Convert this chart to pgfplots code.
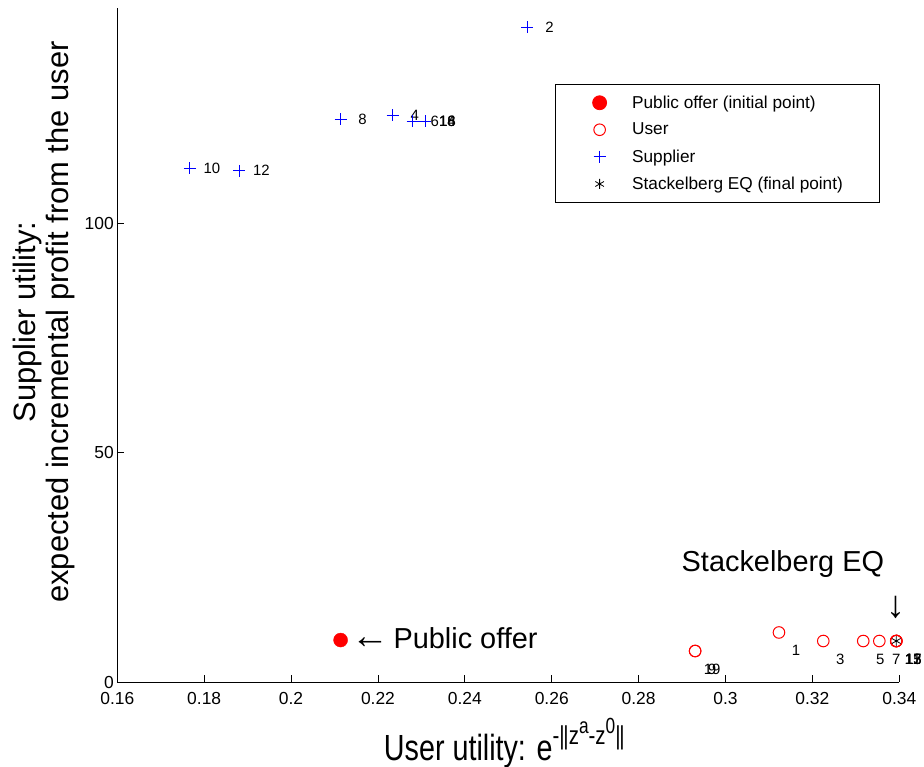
\documentclass[border=0pt]{standalone}
\usepackage{fontspec}
\setmainfont{Liberation Sans}
\newfontfamily\narrowfont[FakeStretch=0.79]{Liberation Sans}
\usepackage{pgfplots}
\pgfplotsset{compat=1.18}
\definecolor{mblue}{rgb}{0,0,1}
\definecolor{mred}{rgb}{1,0,0}
\begin{document}
\begin{tikzpicture}
\begin{axis}[
  name=ax,
  scale only axis,
  width=782bp, height=674bp,
  xmin=0.16, xmax=0.34, ymin=0, ymax=147,
  axis x line=bottom, axis y line=left,
  axis line style={-, line width=1bp, black},
  tick align=inside,
  major tick length=7bp,
  tick style={black, line width=0.8bp},
  xtick={0.16,0.18,0.2,0.22,0.24,0.26,0.28,0.3,0.32,0.34},
  xticklabels={0.16,0.18,0.2,0.22,0.24,0.26,0.28,0.3,0.32,0.34},
  ytick={0,50,100},
  yticklabels={0,50,100},
  ticklabel style={font=\fontsize{17.5}{20}\selectfont},
  xticklabel style={yshift=-7bp},
  /pgf/number format/assume math mode=true,
  clip=false,
  xlabel={{\narrowfont\fontsize{36.5}{40}\selectfont User utility: e\raisebox{0.42em}{\fontsize{26}{28}\selectfont -|\kern-0.05em|z\raisebox{0.45em}{\fontsize{22}{24}\selectfont a}-z\raisebox{0.45em}{\fontsize{22}{24}\selectfont 0}|\kern-0.05em|}}},
  xlabel style={at={(axis description cs:0.5,0)}, anchor=base, yshift=-78bp, xshift=-4bp},
  ylabel={Supplier utility:\\expected incremental profit from the user},
  ylabel style={at={(axis description cs:-0.094,0.534)}, anchor=center, align=center, font=\fontsize{31}{33}\selectfont},
  legend style={at={(0.9757,0.887)}, anchor=north east, draw=black, line width=0.8bp,
    font=\fontsize{17.3}{20}\selectfont, inner xsep=37bp, inner ysep=11.2bp, row sep=13.3bp,
    nodes={inner sep=0pt},
    /tikz/every odd column/.append style={column sep=25.5bp}},
  legend cell align=left,
  legend image code/.code={\draw[mark repeat=2,mark phase=2,#1] plot coordinates {(0bp,0bp)(6bp,0bp)(12bp,0bp)};},
]
\addplot[only marks, mark=*, mark size=7bp, mred, fill=mred] coordinates {(0.2114,9.15)};
\addlegendentry{Public offer (initial point)\hspace{5bp}}
\addplot[only marks, mark=o, mark size=5.8bp, mred, line width=1bp] coordinates {
(0.3123,10.8) (0.3225,8.94) (0.3317,8.94) (0.3354,8.94) (0.2930,6.76)
(0.3393,8.94) (0.3393,8.94) (0.3393,8.94) (0.3393,8.94) (0.2930,6.76)};
\addlegendentry{User}
\addplot[only marks, mark=+, mark size=6bp, mblue, line width=1.2bp] coordinates {
(0.2544,142.8) (0.2234,123.6) (0.2280,122.3) (0.2114,122.7) (0.1767,112.0)
(0.1881,111.5) (0.2309,122.3) (0.2309,122.3) (0.2309,122.3)};
\addlegendentry{Supplier}
\addplot[only marks, mark=asterisk, mark size=5bp, black, line width=0.8bp] coordinates {(0.3393,8.94)};
\addlegendentry{Stackelberg EQ (final point)}
% supplier labels (even)
\begin{scope}[every node/.style={font=\fontsize{15}{17}\selectfont, inner sep=0pt, anchor=center, xshift=22bp}]
\node at (axis cs:0.2544,142.8) {2};
\node at (axis cs:0.2234,123.6) {4};
\node at (axis cs:0.2280,122.3) {6};
\node at (axis cs:0.2114,122.7) {8};
\node at (axis cs:0.1767,112.0) {10};
\node at (axis cs:0.1881,111.5) {12};
\node at (axis cs:0.2309,122.3) {14};
\node at (axis cs:0.2309,122.3) {16};
\node at (axis cs:0.2309,122.3) {18};
\end{scope}
% user labels (odd)
\begin{scope}[every node/.style={font=\fontsize{15}{17}\selectfont, inner sep=0pt, anchor=center, xshift=17bp, yshift=-18bp}]
\node at (axis cs:0.3123,10.8) {1};
\node at (axis cs:0.3225,8.94) {3};
\node at (axis cs:0.3317,8.94) {5};
\node at (axis cs:0.3354,8.94) {7};
\node at (axis cs:0.2930,6.76) {9};
\node at (axis cs:0.3393,8.94) {11};
\node at (axis cs:0.3393,8.94) {13};
\node at (axis cs:0.3393,8.94) {15};
\node at (axis cs:0.3393,8.94) {17};
\node at (axis cs:0.2930,6.76) {19};
\end{scope}
\node[font=\fontsize{29}{32}\selectfont, inner sep=0pt, anchor=center] at (axis cs:0.3132,25.7) {Stackelberg EQ};
\node[font=\fontsize{38}{40}\selectfont, inner sep=0pt, anchor=center] at (axis cs:0.3392,16.2) {↓};
\node[inner sep=0pt, anchor=west] at (axis cs:0.2139,9.6) {{\fontsize{38}{40}\selectfont ←}\hspace{4bp}{\fontsize{29}{32}\selectfont Public offer}};
\end{axis}
\pgfresetboundingbox
\path ([shift={(-117.3bp,-85bp)}]ax.south west) rectangle ([shift={(24.7bp,8bp)}]ax.north east);
\end{tikzpicture}
\end{document}
